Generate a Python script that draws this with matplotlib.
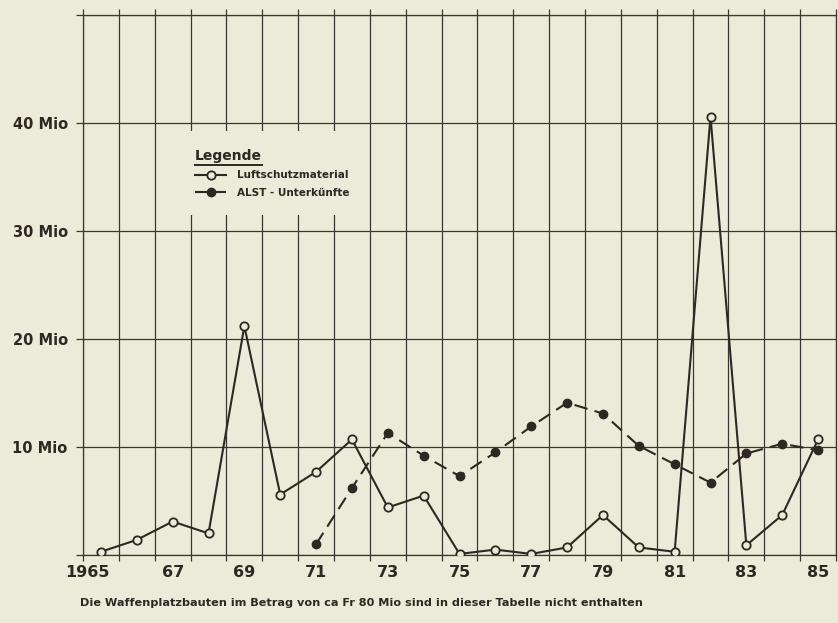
import matplotlib
matplotlib.use("Agg")
import matplotlib.pyplot as plt
import matplotlib.transforms as mtransforms
from matplotlib.lines import Line2D
import numpy as np


OUTPUT_PATH = "out.png"

# Werte in Mio Fr
years = list(range(1965, 1986))
luftschutz = [0.3, 1.4, 3.1, 2.0, 21.2, 5.6, 7.7, 10.7, 4.4, 5.5, 0.1,
              0.5, 0.1, 0.7, 3.7, 0.7, 0.3, 40.6, 0.9, 3.7, 10.7]

alst_years = list(range(1971, 1986))
alst = [1.0, 6.2, 11.3, 9.2, 7.3, 9.5, 11.9, 14.1, 13.1, 10.1, 8.4,
        6.7, 9.4, 10.3, 9.7]

year_ticks = list(range(1965, 1986, 2))
year_labels = ["1965", "67", "69", "71", "73", "75", "77", "79", "81", "83", "85"]
y_ticks = [0, 10, 20, 30, 40, 50]
y_labels = ["", "10 Mio", "20 Mio", "30 Mio", "40 Mio", ""]

series_names = ["Luftschutzmaterial", "ALST - Unterkünfte"]
footnote = "Die Waffenplatzbauten im Betrag von ca Fr 80 Mio sind in dieser Tabelle nicht enthalten"

BG = "#ecead8"
INK = "#2d2823"
GRID = "#3b3631"

plt.rcParams["font.family"] = ["DejaVu Sans"]

fig = plt.figure(figsize=(8.38, 6.23), dpi=100, facecolor=BG)
ax = fig.add_axes([83 / 838, 1 - 555 / 623, 753 / 838, 540 / 623])
ax.set_facecolor(BG)
ax.set_xlim(1964.5, 1985.5)
ax.set_ylim(0, 50)

# ---------------------------------------------------------
# Raster
# ---------------------------------------------------------
ax.set_xticks(year_ticks)
ax.set_xticklabels(year_labels, fontsize=11.5, fontweight="bold", color=INK)
ax.set_xticks(np.arange(1964.5, 1986, 1), minor=True)
ax.set_yticks(y_ticks)
ax.set_yticklabels(y_labels, fontsize=10.5, fontweight="bold", color=INK)

ax.grid(which="minor", axis="x", color=GRID, lw=0.9)
ax.grid(which="major", axis="y", color=GRID, lw=0.9)
ax.set_axisbelow(True)

ax.tick_params(axis="x", which="major", length=0, pad=7)
ax.tick_params(axis="x", which="minor", length=4, width=0.9, color=GRID,
               top=True, bottom=True)
ax.tick_params(axis="y", which="major", length=5, width=0.9, color=GRID, pad=6)

for spine in ax.spines.values():
    spine.set_color(GRID)
    spine.set_linewidth(0.9)

# "1965" etwas nach links, damit "65" unter dem Punkt steht
first = ax.get_xticklabels()[0]
first.set_transform(first.get_transform() +
                    mtransforms.ScaledTranslation(-13 / 100, 0, fig.dpi_scale_trans))

# ---------------------------------------------------------
# Kurven
# ---------------------------------------------------------
line_l, = ax.plot(years, luftschutz, color=INK, lw=1.5, marker="o",
                  markersize=6, markerfacecolor=BG, markeredgecolor=INK,
                  markeredgewidth=1.3, zorder=4)
line_a, = ax.plot(alst_years, alst, color=INK, lw=1.5, marker="o",
                  markersize=6, markerfacecolor=INK, markeredgecolor=INK,
                  dashes=(6.5, 3.5), zorder=3)

# ---------------------------------------------------------
# Legende
# ---------------------------------------------------------
leg = ax.legend([line_l, line_a], series_names,
                loc="upper left", bbox_to_anchor=((172 - 83) / 753, (555 - 126) / 540),
                frameon=True, facecolor=BG, edgecolor="none", framealpha=1,
                fancybox=False, borderpad=1.7, labelspacing=0.7,
                handlelength=3.0, handletextpad=1.0,
                title="Legende", alignment="left",
                prop={"size": 7.5, "weight": "bold"},
                title_fontproperties={"size": 10, "weight": "bold"})
leg.set_zorder(5)
for txt in leg.get_texts():
    txt.set_color(INK)
leg.get_title().set_color(INK)

fig.canvas.draw()
bb = leg.get_title().get_window_extent(fig.canvas.get_renderer())
bb = bb.transformed(fig.transFigure.inverted())
fig.add_artist(Line2D([bb.x0, bb.x1], [bb.y0 - 0.004, bb.y0 - 0.004],
                      transform=fig.transFigure, color=INK, lw=1.4, zorder=6))

fig.text(80 / 838, 1 - 603 / 623, footnote, fontsize=8.1, fontweight="bold",
         color=INK, va="center", ha="left")

fig.savefig(OUTPUT_PATH, dpi=100, facecolor=BG)
plt.close(fig)
